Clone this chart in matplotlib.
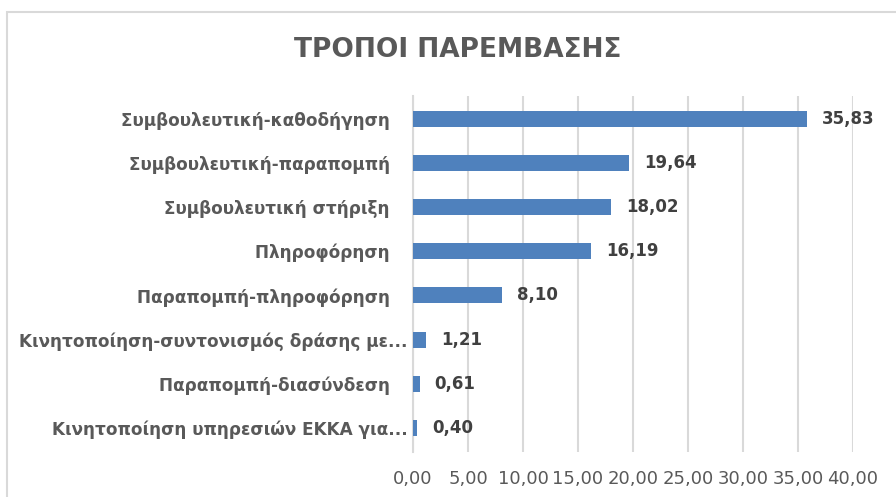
import matplotlib
matplotlib.use("Agg")
import matplotlib.pyplot as plt
from matplotlib.patches import Rectangle

categories = [
    "Συμβουλευτική-καθοδήγηση",
    "Συμβουλευτική-παραπομπή",
    "Συμβουλευτική στήριξη",
    "Πληροφόρηση",
    "Παραπομπή-πληροφόρηση",
    "Κινητοποίηση-συντονισμός δράσης με...",
    "Παραπομπή-διασύνδεση",
    "Κινητοποίηση υπηρεσιών ΕΚΚΑ για...",
]
values = [35.83, 19.64, 18.02, 16.19, 8.10, 1.21, 0.61, 0.40]
xticks = [0, 5, 10, 15, 20, 25, 30, 35, 40]
title = "ΤΡΟΠΟΙ ΠΑΡΕΜΒΑΣΗΣ"

W, H = 896, 497
fig = plt.figure(figsize=(W / 100, H / 100), dpi=100)
fig.patch.set_facecolor("white")

# outer border
fig.add_artist(Rectangle((7 / W, -0.05), 1.2, 1 - 12 / H + 0.05,
                         transform=fig.transFigure, fill=False,
                         edgecolor="#D9D9D9", linewidth=1.5))

ax = fig.add_axes([413 / W, 1 - 452 / H, (853 - 413) / W, (452 - 96) / H])
n = len(categories)
ypos = list(range(n - 1, -1, -1))
ax.barh(ypos, values, height=0.36, color="#4F81BD", zorder=3)
ax.set_xlim(0, 40)
ax.set_ylim(-0.54, n - 1 + 0.51)

ax.set_xticks(xticks)
ax.set_xticklabels([f"{v:.2f}".replace(".", ",") for v in xticks],
                   fontsize=13, color="#595959", family="DejaVu Sans")
ax.tick_params(axis="x", length=0, pad=13)
ax.set_yticks(ypos)
ylabels = [c if c.endswith("...") else c + "   " for c in categories]
ax.set_yticklabels(ylabels, fontsize=12.2, color="#595959",
                   fontweight="bold", family="DejaVu Sans")
ax.tick_params(axis="y", length=0, pad=4)

ax.grid(axis="x", color="#D9D9D9", linewidth=1.5, zorder=0)
for s in ["top", "right", "bottom"]:
    ax.spines[s].set_visible(False)
ax.spines["left"].set_color("#D9D9D9")
ax.spines["left"].set_linewidth(1.5)

for y, v in zip(ypos, values):
    ax.annotate(f"{v:.2f}".replace(".", ","), xy=(v, y), xytext=(15, 0),
                textcoords="offset pixels",
                va="center", ha="left", fontsize=12, fontweight="bold",
                color="#404040", family="DejaVu Sans")

fig.text(458 / W, 1 - 50 / H, title, ha="center", va="center",
         fontsize=19, fontweight="bold", color="#595959",
         family="DejaVu Sans")

fig.savefig("out.png", dpi=100)
